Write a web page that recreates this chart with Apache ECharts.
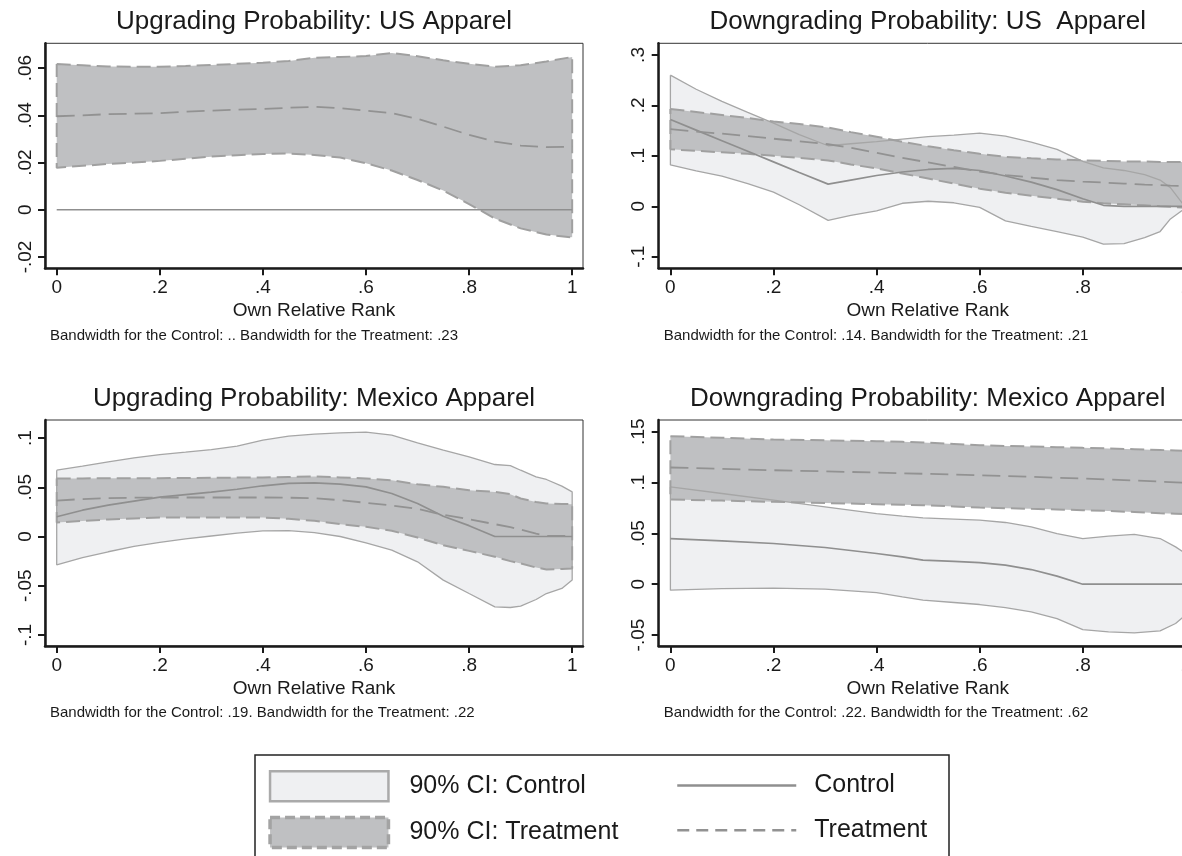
<!DOCTYPE html>
<html>
<head>
<meta charset="utf-8">
<script src="https://cdn.jsdelivr.net/npm/echarts@6/dist/echarts.min.js"></script>
<style>
html,body{margin:0;padding:0;background:#fff;overflow:hidden;width:1182px;height:856px;}
#chart{width:1200px;height:856px;}
</style>
</head>
<body>
<div id="chart"></div>
<script>
// ---------------- DATA ----------------
const xTicks = [0, 0.2, 0.4, 0.6, 0.8, 1];

// Panel 1: Upgrading Probability: US Apparel
const p1Title = 'Upgrading Probability: US Apparel';
const p1Note = 'Bandwidth for the Control: .. Bandwidth for the Treatment: .23';
const p1YTicks = [-0.02, 0, 0.02, 0.04, 0.06];
const p1X = [0, .05, .1, .15, .2, .25, .3, .35, .4, .45, .5, .55, .6, .65, .7, .75, .8, .85, .9, .95, 1];
const p1CtrlEst = [0, 0, 0, 0, 0, 0, 0, 0, 0, 0, 0, 0, 0, 0, 0, 0, 0, 0, 0, 0, 0];
const p1TrtHi = [.0617, .0612, .0607, .0606, .0606, .0609, .0613, .0618, .0623, .0630, .0644, .0647, .0651, .0664, .0650, .0633, .0618, .0606, .0612, .0628, .0647];
const p1TrtLo = [.0178, .0186, .0194, .0200, .0207, .0216, .0225, .0231, .0236, .0238, .0232, .0221, .0197, .0166, .0126, .0081, .0024, -.0037, -.0079, -.0105, -.0117];
const p1TrtEst = [.0396, .0400, .0405, .0407, .0409, .0415, .0420, .0424, .0427, .0432, .0436, .0430, .0420, .0409, .0385, .0352, .0317, .0289, .0272, .0265, .0267];

// Panel 2: Downgrading Probability: US Apparel
const p2Title = 'Downgrading Probability: US  Apparel';
const p2Note = 'Bandwidth for the Control: .14. Bandwidth for the Treatment: .21';
const p2YTicks = [-0.1, 0, 0.1, 0.2, 0.3];
const p2X = [0, .05, .1, .15, .2, .25, .306, .35, .4, .45, .5, .55, .6, .65, .7, .75, .8, .84, .88, .92, .95, .97, 1];
const p2CtrlHi = [.260, .232, .208, .186, .165, .142, .120, .124, .128, .133, .138, .141, .145, .139, .127, .113, .089, .076, .071, .063, .052, .037, -.003];
const p2CtrlLo = [.082, .070, .060, .045, .028, .003, -.028, -.018, -.009, .006, .010, .007, -.002, -.029, -.040, -.050, -.061, -.075, -.074, -.062, -.050, -.025, -.002];
const p2CtrlEst = [.172, .151, .130, .109, .088, .067, .044, .052, .061, .068, .073, .075, .071, .060, .048, .033, .015, .002, 0, 0, 0, 0, 0];
const p2TrtHi = [.193, .187, .181, .175, .168, .163, .156, .147, .138, .128, .119, .111, .104, .098, .095, .093, .091, .090, .089, .089, .088, .088, .088];
const p2TrtLo = [.113, .110, .107, .104, .100, .096, .091, .083, .075, .065, .055, .045, .035, .027, .021, .015, .009, .006, .004, .002, .000, -.001, -.003];
const p2TrtEst = [.153, .148, .144, .139, .134, .129, .123, .116, .106, .096, .087, .078, .069, .062, .057, .052, .049, .047, .045, .043, .042, .041, .040];

// Panel 3: Upgrading Probability: Mexico Apparel
const p3Title = 'Upgrading Probability: Mexico Apparel';
const p3Note = 'Bandwidth for the Control: .19. Bandwidth for the Treatment: .22';
const p3YTicks = [-0.1, -0.05, 0, 0.05, 0.1];
const p3X = [0, .05, .1, .15, .2, .25, .3, .35, .4, .45, .5, .55, .6, .65, .7, .75, .8, .85, .88, .9, .93, .95, .98, 1];
const p3CtrlHi = [.0673, .0714, .0758, .0799, .0832, .0856, .0883, .0917, .0978, .1019, .1039, .1052, .1059, .1029, .0951, .0876, .0809, .0731, .0720, .0673, .0606, .0579, .0511, .0453];
const p3CtrlLo = [-.0288, -.0215, -.0155, -.0100, -.0060, -.0025, .0005, .0035, .0058, .0060, .0040, .0000, -.0064, -.0139, -.0257, -.0443, -.0579, -.0714, -.0721, -.0707, -.0640, -.0579, -.0528, -.0443];
const p3CtrlEst = [.0200, .0267, .0318, .0360, .0400, .0425, .0450, .0480, .0515, .0540, .0545, .0531, .0504, .0437, .0335, .0206, .0110, .0000, 0, 0, 0, 0, 0, 0];
const p3TrtHi = [.0589, .0590, .0591, .0592, .0592, .0594, .0596, .0598, .0600, .0605, .0610, .0600, .0590, .0570, .0530, .0504, .0470, .0453, .0430, .0386, .0350, .0335, .0330, .0328];
const p3TrtLo = [.0142, .0158, .0173, .0183, .0193, .0193, .0193, .0193, .0193, .0180, .0159, .0125, .0098, .0058, -.0010, -.0088, -.0146, -.0206, -.0250, -.0274, -.0315, -.0335, -.0330, -.0325];
const p3TrtEst = [.0365, .0380, .0390, .0394, .0396, .0396, .0396, .0396, .0396, .0394, .0389, .0369, .0342, .0315, .0280, .0220, .0175, .0125, .0095, .0070, .0030, .0007, .0007, .0007];

// Panel 4: Downgrading Probability: Mexico Apparel
const p4Title = 'Downgrading Probability: Mexico Apparel';
const p4Note = 'Bandwidth for the Control: .22. Bandwidth for the Treatment: .62';
const p4YTicks = [-0.05, 0, 0.05, 0.1, 0.15];
const p4X = [0, .1, .2, .3, .4, .45, .49, .55, .6, .65, .7, .75, .8, .85, .9, .95, .98, 1];
const p4CtrlHi = [.0957, .0892, .0826, .0761, .0695, .0669, .0652, .0640, .0630, .0607, .0564, .0498, .0449, .0472, .0489, .0449, .0367, .0300];
const p4CtrlLo = [-.0059, -.0043, -.0039, -.0049, -.0082, -.0125, -.0157, -.0180, -.0200, -.0230, -.0272, -.0338, -.0446, -.0469, -.0479, -.0459, -.0387, -.0300];
const p4CtrlEst = [.0449, .0426, .0400, .0361, .0302, .0269, .0236, .0225, .0213, .0187, .0144, .0079, .0000, 0, 0, 0, 0, 0];
const p4TrtHi = [.1456, .1440, .1423, .1415, .1407, .1400, .1394, .1380, .1367, .1360, .1354, .1348, .1341, .1335, .1328, .1320, .1315, .1311];
const p4TrtLo = [.0833, .0822, .0810, .0798, .0787, .0781, .0776, .0765, .0754, .0748, .0741, .0735, .0728, .0720, .0710, .0698, .0693, .0689];
const p4TrtEst = [.1148, .1135, .1121, .1110, .1098, .1091, .1086, .1078, .1072, .1064, .1056, .1047, .1039, .1030, .1020, .1009, .1002, .0997];

const legendNames = ['90% CI: Control', '90% CI: Treatment', 'Control', 'Treatment'];
const xAxisTitle = 'Own Relative Rank';

// ---------------- LAYOUT / STYLE ----------------
const FONT = "'Liberation Sans', Arial, Helvetica, sans-serif";
const INK = '#1a1a1a';
const C_FILL = '#eff0f2', T_FILL = '#bfc0c2';
const C_LINE = '#a6a6a6', T_LINE = '#a0a0a0';
const C_EST = '#8f8f8f', T_EST = '#929292';

const panels = [
  {title: p1Title, note: p1Note, yTicks: p1YTicks, yMin: -0.0248, yMax: 0.0705, x: p1X,
   ctrlHi: null, ctrlLo: null, ctrlEst: p1CtrlEst, trtHi: p1TrtHi, trtLo: p1TrtLo, trtEst: p1TrtEst,
   left: 45, top: 43.3, height: 225},
  {title: p2Title, note: p2Note, yTicks: p2YTicks, yMin: -0.1229, yMax: 0.3231, x: p2X,
   ctrlHi: p2CtrlHi, ctrlLo: p2CtrlLo, ctrlEst: p2CtrlEst, trtHi: p2TrtHi, trtLo: p2TrtLo, trtEst: p2TrtEst,
   left: 658.7, top: 43.3, height: 225},
  {title: p3Title, note: p3Note, yTicks: p3YTicks, yMin: -0.1112, yMax: 0.1183, x: p3X,
   ctrlHi: p3CtrlHi, ctrlLo: p3CtrlLo, ctrlEst: p3CtrlEst, trtHi: p3TrtHi, trtLo: p3TrtLo, trtEst: p3TrtEst,
   left: 45, top: 420, height: 226},
  {title: p4Title, note: p4Note, yTicks: p4YTicks, yMin: -0.0608, yMax: 0.1615, x: p4X,
   ctrlHi: p4CtrlHi, ctrlLo: p4CtrlLo, ctrlEst: p4CtrlEst, trtHi: p4TrtHi, trtLo: p4TrtLo, trtEst: p4TrtEst,
   left: 658.7, top: 420, height: 226}
];
const GRID_W = 538;
const X_MIN = -0.0227, X_MAX = 1.021;

function stata(v) {
  if (Math.abs(v) < 1e-9) return '0';
  const s = String(+v.toFixed(3));
  return s.replace(/^(-?)0\./, '$1.');
}

const grids = [], xAxes = [], yAxes = [], series = [], graphics = [];

panels.forEach((p, i) => {
  grids.push({left: p.left, top: p.top, width: GRID_W, height: p.height,
    show: true, borderColor: '#333', borderWidth: 1, backgroundColor: 'transparent'});
  xAxes.push({
    gridIndex: i, type: 'value', min: X_MIN, max: X_MAX,
    axisLine: {show: true, onZero: false, lineStyle: {color: INK, width: 2.5}},
    axisTick: {show: true, customValues: xTicks, length: 7, lineStyle: {color: INK, width: 2}},
    axisLabel: {show: true, customValues: xTicks, formatter: stata, fontSize: 19, color: INK, fontFamily: FONT, margin: 10},
    splitLine: {show: false},
    name: xAxisTitle, nameLocation: 'middle', nameGap: 33,
    nameTextStyle: {fontSize: 19, color: INK, fontFamily: FONT}
  });
  yAxes.push({
    gridIndex: i, type: 'value', min: p.yMin, max: p.yMax,
    axisLine: {show: true, onZero: false, lineStyle: {color: INK, width: 2.5}},
    axisTick: {show: true, customValues: p.yTicks, length: 7, lineStyle: {color: INK, width: 2}},
    axisLabel: {show: true, customValues: p.yTicks, formatter: stata, rotate: 90, fontSize: 19, color: INK, fontFamily: FONT, margin: 10},
    splitLine: {show: false}
  });

  const common = {xAxisIndex: i, yAxisIndex: i, silent: true, animation: false, emphasis: {disabled: true}};
  const pairs = arr => p.x.map((v, k) => [v, arr[k]]);
  const ring = (hi, lo) => {
    const pts = p.x.map((v, k) => [v, hi[k]]);
    for (let k = p.x.length - 1; k >= 0; k--) pts.push([p.x[k], lo[k]]);
    pts.push([p.x[0], hi[0]]);
    return pts;
  };
  // band fill as one polygon, drawn through the axes' scales
  const band = (name, hi, lo, fill, z) => {
    const pts = ring(hi, lo);
    return Object.assign({}, common, {
      type: 'custom', name: name, z: z, clip: true,
      data: p.x.map((v, k) => [v, lo[k], hi[k]]),
      encode: {x: 0, y: [1, 2]},
      itemStyle: {color: fill},
      renderItem: (params, api) => {
        if (params.dataIndex !== 0) return null;
        return {type: 'polygon', shape: {points: pts.map(pt => api.coord(pt))},
                style: {fill: fill, stroke: null}};
      }
    });
  };

  if (p.ctrlHi) series.push(band(legendNames[0], p.ctrlHi, p.ctrlLo, C_FILL, 1));
  series.push(band(legendNames[1], p.trtHi, p.trtLo, T_FILL, 2));
  // outlines
  if (p.ctrlHi) {
    series.push(Object.assign({}, common, {type: 'line', name: '_cout' + i, symbol: 'none', data: ring(p.ctrlHi, p.ctrlLo),
      lineStyle: {color: C_LINE, width: 1.3}, z: 3}));
  }
  series.push(Object.assign({}, common, {type: 'line', name: '_tout' + i, symbol: 'none', data: ring(p.trtHi, p.trtLo),
    lineStyle: {color: T_LINE, width: 2, type: [14, 6]}, z: 3}));
  // estimates
  series.push(Object.assign({}, common, {type: 'line', name: legendNames[2], symbol: 'none', data: pairs(p.ctrlEst),
    lineStyle: {color: C_EST, width: 1.7}, itemStyle: {color: C_EST}, z: 4}));
  series.push(Object.assign({}, common, {type: 'line', name: legendNames[3], symbol: 'none', data: pairs(p.trtEst),
    lineStyle: {color: T_EST, width: 1.8, type: [18, 8]}, itemStyle: {color: T_EST}, z: 4}));

  const row = i < 2 ? 0 : 1;
  const cx = p.left + GRID_W / 2;
  graphics.push({type: 'text', x: cx, y: row === 0 ? 21.5 : 399, silent: true,
    style: {text: p.title, fontSize: 26, fontFamily: FONT, fill: INK, align: 'center', verticalAlign: 'middle'}});
  graphics.push({type: 'text', x: p.left + 5, y: row === 0 ? 335.5 : 713, silent: true,
    style: {text: p.note, fontSize: 15, fontFamily: FONT, fill: INK, align: 'left', verticalAlign: 'middle'}});
});

graphics.push({type: 'rect', silent: true, shape: {x: 255, y: 755, width: 694, height: 110},
  style: {fill: 'none', stroke: '#222', lineWidth: 1.5}});

const option = {
  animation: false,
  backgroundColor: '#fff',
  grid: grids, xAxis: xAxes, yAxis: yAxes, series: series,
  graphic: graphics,
  legend: [
    {left: 268.3, top: 770, orient: 'vertical', itemWidth: 118.4, itemHeight: 30, itemGap: 13.3, padding: 0,
     selectedMode: false,
     textStyle: {fontSize: 25, color: INK, fontFamily: FONT, padding: [0, 0, 0, 16]},
     data: [
       {name: legendNames[0], icon: 'rect', itemStyle: {color: C_FILL, borderColor: '#aaaaaa', borderWidth: 2.5}},
       {name: legendNames[1], icon: 'rect', itemStyle: {color: T_FILL, borderColor: '#a3a3a3', borderWidth: 3.5, borderType: [10, 5]}}
     ]},
    {left: 676, top: 773, orient: 'vertical', itemWidth: 119, itemHeight: 30, itemGap: 19.8, padding: 0,
     selectedMode: false,
     textStyle: {fontSize: 25, color: INK, fontFamily: FONT, padding: [0, 0, 0, 13]},
     data: [
       {name: legendNames[2], itemStyle: {opacity: 0}, lineStyle: {color: C_EST, width: 2.5}},
       {name: legendNames[3], itemStyle: {opacity: 0}, lineStyle: {color: T_EST, width: 2.5, type: [12, 7]}}
     ]}
  ]
};

const chart = echarts.init(document.getElementById('chart'));
chart.setOption(option);
</script>
</body>
</html>
